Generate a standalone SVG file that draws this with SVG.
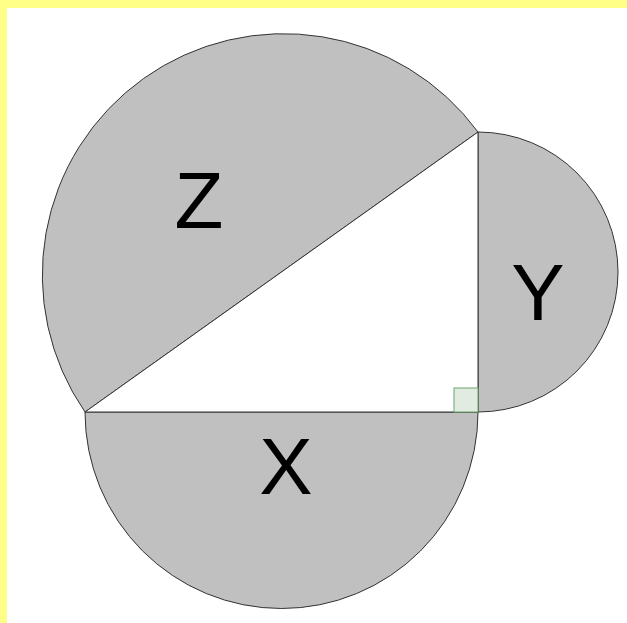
<svg xmlns="http://www.w3.org/2000/svg" width="627" height="623" viewBox="0 0 627 623">
<style>
.semi{fill:#c0c0c0;stroke:#333333;stroke-width:1}
.lbl{font-family:"Liberation Sans",Arial,sans-serif;font-size:80px;fill:#000000;text-anchor:middle}
</style>
<rect x="0" y="0" width="627" height="623" fill="#ffffff"/>
<rect x="0" y="0" width="627" height="8" fill="#ffff88"/>
<rect x="0" y="0" width="7" height="623" fill="#ffff88"/>
<g id="semicircle-z">
<path class="semi" d="M85 412 A241.3 241.3 0 0 1 478 132 Z"/>
<text class="lbl" x="199" y="228">Z</text>
</g>
<g id="semicircle-y">
<path class="semi" d="M478 132 A140 140 0 0 1 478 412 Z"/>
<text class="lbl" x="538" y="320">Y</text>
</g>
<g id="semicircle-x">
<path class="semi" d="M85 412 A196.5 196.5 0 0 0 478 412 Z"/>
<text class="lbl" x="286" y="494">X</text>
</g>
<g id="triangle">
<path d="M85 412 L478 412 L478 132 Z" fill="#ffffff" stroke="#333333" stroke-width="1"/>
</g>
<g id="right-angle">
<rect x="454" y="388" width="24" height="24" fill="#e1ebe1" stroke="#6aa86a" stroke-width="1"/>
</g>
</svg>
